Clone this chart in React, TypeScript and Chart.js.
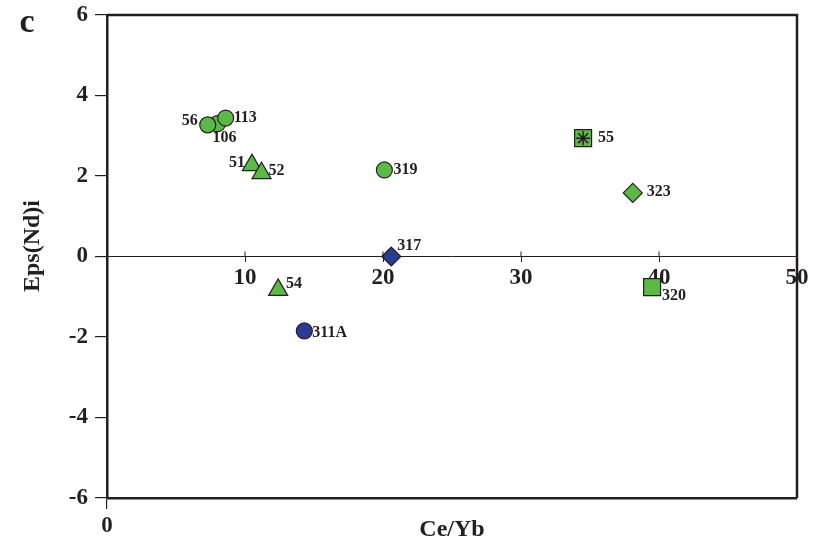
import React, { useEffect, useRef } from 'react';
import { Chart, registerables } from 'chart.js';

Chart.register(...registerables);

// ---- data ----
const sampleIds = ['106', '56', '113', '51', '52', '319', '317', '54', '311A', '55', '323', '320'];
const ceYbValues = [8.0, 7.3, 8.6, 10.5, 11.2, 20.1, 20.6, 12.4, 14.3, 34.5, 38.1, 39.5];
const epsNdValues = [3.3, 3.27, 3.44, 2.27, 2.07, 2.15, 0.0, -0.83, -1.85, 2.94, 1.58, -0.76];
const symbolKeys = ['gc', 'gc', 'gc', 'gt', 'gt', 'gc', 'bd', 'gt', 'bc', 'gs', 'gd', 'gs'];
const starredIds = ['55'];
const xTickValues = [0, 10, 20, 30, 40, 50];
const yTickValues = [-6, -4, -2, 0, 2, 4, 6];
const xTitle = 'Ce/Yb';
const yTitle = 'Eps(Nd)i';
const panelLetter = 'c';

// ---- styles ----
const GREEN = '#5cb946';
const BLUE = '#2b3a92';
const INK = '#231f20';
const FONT = '"Liberation Serif", "Times New Roman", serif';

const symbolStyles: Record<string, { style: string; radius: number; color: string }> = {
  gc: { style: 'circle', radius: 8, color: GREEN },
  bc: { style: 'circle', radius: 8, color: BLUE },
  gt: { style: 'triangle', radius: 11, color: GREEN },
  gd: { style: 'rectRot', radius: 9.5, color: GREEN },
  bd: { style: 'rectRot', radius: 9.5, color: BLUE },
  gs: { style: 'rect', radius: 12, color: GREEN },
};

// label placement per sample: [dx, dy, align]
const labelPlacement: Record<string, [number, number, CanvasTextAlign]> = {
  '56': [-10, -4, 'right'],
  '106': [-5, 14, 'left'],
  '113': [8, 0, 'left'],
  '51': [-7, -2, 'right'],
  '52': [7, -2, 'left'],
  '319': [9, 0, 'left'],
  '317': [6, -11, 'left'],
  '54': [8, -6, 'left'],
  '311A': [8, 2, 'left'],
  '55': [15, 0, 'left'],
  '323': [14, -1, 'left'],
  '320': [10, 9, 'left'],
};

const overlayPlugin = {
  id: 'overlay',
  afterDraw(chart: any) {
    const { ctx, chartArea } = chart;
    const x2 = chart.scales.x2;
    const y = chart.scales.y;
    ctx.save();
    // frame top and right
    ctx.strokeStyle = INK;
    ctx.lineWidth = 2.5;
    ctx.beginPath();
    ctx.moveTo(chartArea.left, chartArea.top);
    ctx.lineTo(chartArea.right, chartArea.top);
    ctx.lineTo(chartArea.right, chartArea.bottom);
    ctx.stroke();
    // upper halves of the ticks on the zero line
    const y0 = y.getPixelForValue(0);
    ctx.lineWidth = 1;
    x2.ticks.forEach((t: any) => {
      const px = x2.getPixelForValue(t.value);
      ctx.beginPath();
      ctx.moveTo(px, y0 - 5);
      ctx.lineTo(px, y0);
      ctx.stroke();
    });
    // point labels
    ctx.fillStyle = INK;
    ctx.font = `bold 16px ${FONT}`;
    ctx.textBaseline = 'middle';
    chart.data.datasets.forEach((ds: any, di: number) => {
      if (!ds.ids) return;
      const meta = chart.getDatasetMeta(di);
      meta.data.forEach((el: any, i: number) => {
        const id = ds.ids[i];
        const p = labelPlacement[id] || [8, 0, 'left'];
        ctx.textAlign = p[2];
        ctx.fillText(id, el.x + p[0], el.y + p[1]);
      });
    });
    // y axis title
    ctx.save();
    ctx.translate(33, 246);
    ctx.rotate(-Math.PI / 2);
    ctx.font = `bold 24px ${FONT}`;
    ctx.textAlign = 'center';
    ctx.textBaseline = 'middle';
    ctx.fillText(yTitle, 0, 0);
    ctx.restore();
    // panel letter
    ctx.font = `bold 34px ${FONT}`;
    ctx.textAlign = 'center';
    ctx.textBaseline = 'alphabetic';
    ctx.fillText(panelLetter, 27, 32);
    ctx.restore();
  },
};

export default function App() {
  const ref = useRef<HTMLCanvasElement>(null);
  useEffect(() => {
    document.body.style.margin = '0';
    const keys = Object.keys(symbolStyles);
    const datasets: any[] = keys.map((k) => {
      const idx = symbolKeys.map((s, i) => (s === k ? i : -1)).filter((i) => i >= 0);
      const st = symbolStyles[k];
      return {
        label: k,
        ids: idx.map((i) => sampleIds[i]),
        data: idx.map((i) => ({ x: ceYbValues[i], y: epsNdValues[i] })),
        pointStyle: st.style,
        pointRadius: st.radius,
        pointHoverRadius: st.radius,
        backgroundColor: st.color,
        borderColor: INK,
        pointBorderWidth: 1.2,
        showLine: false,
        order: 1,
      };
    });
    const starIdx = sampleIds.map((s, i) => (starredIds.includes(s) ? i : -1)).filter((i) => i >= 0);
    datasets.push({
      label: 'star',
      data: starIdx.map((i) => ({ x: ceYbValues[i], y: epsNdValues[i] })),
      pointStyle: 'star',
      pointRadius: 7,
      borderColor: INK,
      backgroundColor: INK,
      pointBorderWidth: 1.5,
      showLine: false,
      order: 0,
    });

    const tickFont = { family: FONT, size: 23, weight: 'bold' as const };
    const chart = new Chart(ref.current!, {
      type: 'scatter',
      data: { datasets },
      plugins: [overlayPlugin],
      options: {
        responsive: false,
        animation: false,
        events: [],
        layout: { padding: { left: 20, top: 15, right: 28, bottom: 0 } },
        plugins: { legend: { display: false }, tooltip: { enabled: false } },
        scales: {
          x: {
            type: 'linear',
            position: 'bottom',
            min: 0,
            max: 50,
            afterFit: (s: any) => { s.height = 48; s.paddingLeft = 0; s.paddingRight = 0; },
            afterBuildTicks: (s: any) => { s.ticks = xTickValues.filter((v) => v === 0).map((v) => ({ value: v })); },
            ticks: { font: tickFont, color: INK, padding: 3, maxRotation: 0 },
            grid: { drawOnChartArea: false, drawTicks: true, tickLength: 11, color: INK, lineWidth: 1.2 },
            border: { display: true, color: INK, width: 2.5 },
            title: { display: true, text: xTitle, color: INK, font: { family: FONT, size: 24, weight: 'bold' }, padding: { top: 0, bottom: 2 } },
          },
          x2: {
            type: 'linear',
            axis: 'x',
            position: { y: 0 },
            min: 0,
            max: 50,
            z: 1,
            afterBuildTicks: (s: any) => { s.ticks = xTickValues.filter((v) => v !== 0).map((v) => ({ value: v })); },
            ticks: { font: tickFont, color: INK, padding: 3, maxRotation: 0 },
            grid: { drawOnChartArea: false, drawTicks: true, tickLength: 5, color: INK, lineWidth: 1 },
            border: { display: true, color: INK, width: 1 },
          },
          y: {
            type: 'linear',
            position: 'left',
            min: -6,
            max: 6,
            afterFit: (s: any) => { s.width = 87; s.paddingTop = 0; s.paddingBottom = 0; },
            afterBuildTicks: (s: any) => { s.ticks = yTickValues.map((v) => ({ value: v })); },
            ticks: { font: tickFont, color: INK, padding: 7 },
            grid: { drawOnChartArea: false, drawTicks: true, tickLength: 12, color: INK, lineWidth: 1.2 },
            border: { display: true, color: INK, width: 2.5 },
          },
        },
      } as any,
    });
    return () => chart.destroy();
  }, []);
  return (
    <div style={{ position: 'absolute', left: 0, top: 0, width: 825, height: 546 }}>
      <canvas ref={ref} width={825} height={546} />
    </div>
  );
}
